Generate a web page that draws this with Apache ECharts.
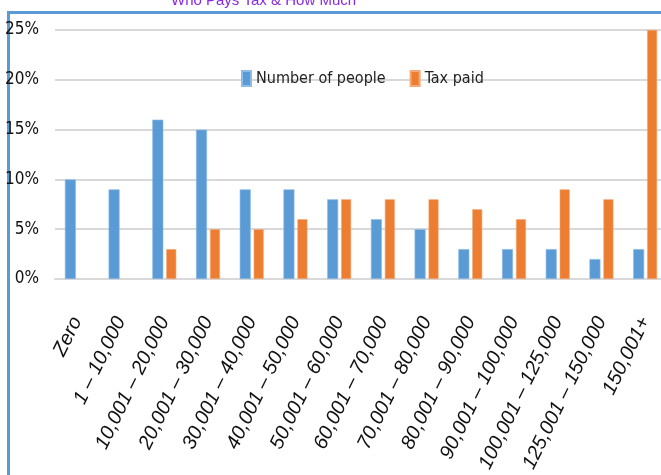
<!DOCTYPE html>
<html>
<head>
<meta charset="utf-8">
<title>Who Pays Tax & How Much</title>
<script src="https://cdn.jsdelivr.net/npm/echarts@6/dist/echarts.min.js"></script>
<style>
  html, body { margin: 0; padding: 0; background: #fff; }
  #chart { width: 661px; height: 475px; }
</style>
</head>
<body>
<div id="chart"></div>
<script>
// income bands
const categories = [
  'Zero', '1 – 10,000', '10,001 – 20,000', '20,001 – 30,000', '30,001 – 40,000',
  '40,001 – 50,000', '50,001 – 60,000', '60,001 – 70,000', '70,001 – 80,000',
  '80,001 – 90,000', '90,001 – 100,000', '100,001 – 125,000', '125,001 – 150,000', '150,001+'
]
// percent of all people in each band
const people = [10, 9, 16, 15, 9, 9, 8, 6, 5, 3, 3, 3, 2, 3]
// percent of all tax paid by each band (no bar for the first two)
const taxPaid = [null, null, 3, 5, 5, 6, 8, 8, 8, 7, 6, 9, 8, 25]
const yTicks = [0, 5, 10, 15, 20, 25]

const narrow = "'DejaVu Sans Condensed', 'Liberation Sans Narrow', sans-serif"

const myChart = echarts.init(document.getElementById('chart'))

const options = {
  animation: false,
  color: ['#5B9BD5', '#ED7D31'],
  title: {
    text: 'Who Pays Tax & How Much',
    left: 166,
    top: -12,
    textStyle: { color: '#8A2BE2', fontSize: 15, fontWeight: 'normal', fontFamily: "'Liberation Sans', sans-serif" }
  },
  // frame of the chart area, cut off by the picture on the right and bottom
  graphic: [{
    type: 'rect',
    shape: { x: 8.5, y: 12.5, width: 720, height: 520 },
    style: { fill: 'none', stroke: '#5B9BD5', lineWidth: 3 },
    silent: true
  }],
  legend: {
    left: 236,
    top: 65,
    itemWidth: 9,
    itemHeight: 15,
    itemGap: 24,
    icon: 'rect',
    textStyle: { fontSize: 16, color: '#222', fontFamily: narrow }
  },
  grid: {
    left: 55,
    width: 612,
    top: 30,
    bottom: 196,
    outerBoundsMode: 'none'
  },
  xAxis: {
    type: 'category',
    data: categories,
    axisLine: { lineStyle: { color: '#D9D9D9', width: 2 } },
    axisTick: { show: false },
    axisLabel: {
      interval: 0,
      rotate: 64,
      margin: 39,
      fontSize: 20,
      fontStyle: 'italic',
      color: '#111',
      fontFamily: "'Liberation Sans', Arial, sans-serif"
    }
  },
  yAxis: {
    type: 'value',
    min: yTicks[0],
    max: yTicks[yTicks.length - 1],
    interval: 5,
    axisLabel: {
      formatter: '{value}%',
      fontSize: 17,
      margin: 16,
      color: '#111',
      fontFamily: narrow
    },
    splitLine: { lineStyle: { color: '#D9D9D9', width: 2 } }
  },
  series: [
    {
      name: 'Number of people',
      type: 'bar',
      data: people,
      barWidth: 11,
      barGap: '27%',
      itemStyle: { borderColor: '#8DBCE6', borderWidth: 0.6 }
    },
    {
      name: 'Tax paid',
      type: 'bar',
      data: taxPaid,
      barWidth: 10,
      itemStyle: { borderColor: '#F4A877', borderWidth: 0.6 }
    }
  ]
}

myChart.setOption(options)
</script>
</body>
</html>
